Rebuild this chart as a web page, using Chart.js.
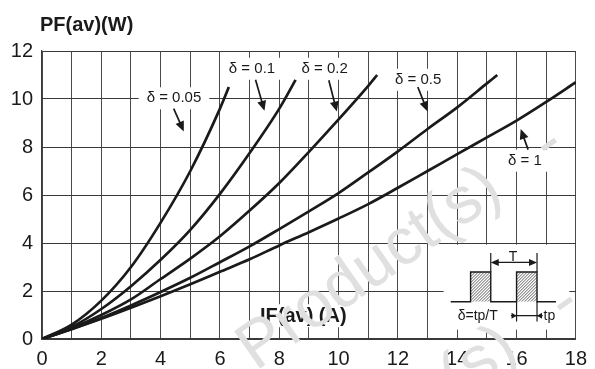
<!DOCTYPE html>
<html>
<head>
<meta charset="utf-8">
<script src="https://cdn.jsdelivr.net/npm/chart.js@4.4.1/dist/chart.umd.min.js"></script>
<style>
  html, body { margin: 0; padding: 0; background: #fff; }
  #wrap { width: 595px; height: 369px; }
</style>
</head>
<body>
<div id="wrap"><canvas id="chart"></canvas></div>
<script>
// values (IF(av) in A, PF(av) in W)
const ifD005 = [0, 1, 2, 3, 4, 5, 6, 6.3];
const pfD005 = [0, 0.6, 1.6, 3.0, 4.85, 7.0, 9.6, 10.5];
const ifD01 = [0, 1, 2, 3, 4, 5, 6, 7, 8, 8.55];
const pfD01 = [0, 0.5, 1.25, 2.2, 3.3, 4.55, 6.05, 7.75, 9.6, 10.8];
const ifD02 = [0, 1, 2, 3, 4, 5, 6, 7, 8, 9, 10, 11, 11.3];
const pfD02 = [0, 0.45, 1.0, 1.65, 2.5, 3.35, 4.28, 5.35, 6.5, 7.8, 9.15, 10.55, 11.0];
const ifD05 = [0, 1, 2, 3, 4, 5, 6, 7, 8, 9, 10, 11, 12, 13, 14, 15, 15.35];
const pfD05 = [0, 0.42, 0.88, 1.4, 1.96, 2.55, 3.2, 3.86, 4.58, 5.32, 6.08, 6.94, 7.82, 8.75, 9.65, 10.65, 11.0];
const ifD1 = [0, 1, 2, 3, 4, 5, 6, 7, 8, 9, 10, 11, 12, 13, 14, 15, 16, 17, 18];
const pfD1 = [0, 0.41, 0.84, 1.3, 1.78, 2.28, 2.8, 3.32, 3.9, 4.45, 5.02, 5.62, 6.3, 7.0, 7.7, 8.4, 9.1, 9.88, 10.7];

// curve labels and their arrows (data units)
const curveLabels = ['δ = 0.05', 'δ = 0.1', 'δ = 0.2', 'δ = 0.5', 'δ = 1'];
const labelX = [4.45, 7.08, 9.53, 12.68, 16.28];
const labelY = [10.03, 11.26, 11.26, 10.8, 7.43];
const arrowFromX = [4.44, 7.2, 9.67, 12.67, 16.39];
const arrowFromY = [9.6, 10.8, 10.78, 10.5, 7.89];
const arrowToX = [4.78, 7.5, 9.94, 13.0, 16.14];
const arrowToY = [8.65, 9.51, 9.48, 9.48, 8.75];

const FONT = '"Liberation Sans", Arial, sans-serif';
const INK = '#1a1a1a';

function pts(xs, ys) {
  return xs.map((x, i) => ({ x: x, y: ys[i] }));
}

function line(ds) {
  return {
    data: ds,
    showLine: true,
    borderColor: INK,
    borderWidth: 2.7,
    pointRadius: 0,
    cubicInterpolationMode: 'monotone',
    fill: false
  };
}

function arrowHead(ctx, x1, y1, x2, y2, len, half) {
  const a = Math.atan2(y2 - y1, x2 - x1);
  ctx.beginPath();
  ctx.moveTo(x2, y2);
  ctx.lineTo(x2 - len * Math.cos(a) + half * Math.sin(a), y2 - len * Math.sin(a) - half * Math.cos(a));
  ctx.lineTo(x2 - len * Math.cos(a) - half * Math.sin(a), y2 - len * Math.sin(a) + half * Math.cos(a));
  ctx.closePath();
  ctx.fill();
}

function whiteBox(ctx, cx, cy, w, h) {
  ctx.fillStyle = '#fff';
  ctx.fillRect(cx - w / 2, cy - h / 2, w, h);
}

const decorations = {
  id: 'decorations',
  beforeDatasetsDraw(chart) {
    const ctx = chart.ctx;
    const xs = chart.scales.x, ys = chart.scales.y;
    ctx.save();
    ctx.font = '15px ' + FONT;
    curveLabels.forEach((t, i) => {
      const w = ctx.measureText(t).width + 16;
      whiteBox(ctx, xs.getPixelForValue(labelX[i]), ys.getPixelForValue(labelY[i]), w, 22);
    });
    // axis name box
    ctx.font = 'bold 20px ' + FONT;
    const w = ctx.measureText('IF(av) (A)').width + 14;
    whiteBox(ctx, xs.getPixelForValue(8.81), ys.getPixelForValue(0.97), w, 23);
    // inset box
    const l = xs.getPixelForValue(13.54), r = xs.getPixelForValue(17.78);
    const t = ys.getPixelForValue(3.93), b = ys.getPixelForValue(0.39);
    ctx.fillStyle = '#fff';
    ctx.fillRect(l, t, r - l, b - t);
    ctx.restore();
  },
  afterDatasetsDraw(chart) {
    const ctx = chart.ctx;
    const xs = chart.scales.x, ys = chart.scales.y;
    const X = v => xs.getPixelForValue(v), Y = v => ys.getPixelForValue(v);
    ctx.save();
    ctx.fillStyle = INK;
    ctx.strokeStyle = INK;
    ctx.textAlign = 'center';
    ctx.textBaseline = 'middle';
    ctx.font = '15px ' + FONT;
    curveLabels.forEach((t, i) => {
      ctx.fillText(t, X(labelX[i]), Y(labelY[i]));
      const x1 = X(arrowFromX[i]), y1 = Y(arrowFromY[i]);
      const x2 = X(arrowToX[i]), y2 = Y(arrowToY[i]);
      ctx.lineWidth = 1.7;
      ctx.beginPath();
      ctx.moveTo(x1, y1);
      ctx.lineTo(x2 - (x2 - x1) * 0.25, y2 - (y2 - y1) * 0.25);
      ctx.stroke();
      arrowHead(ctx, x1, y1, x2, y2, 10, 4.5);
    });

    ctx.font = 'bold 20px ' + FONT;
    ctx.fillText('IF(av) (A)', X(8.81), Y(0.97) + 1);

    // duty cycle inset
    const base = Y(1.55), top = Y(2.79);
    ctx.lineWidth = 1.4;
    ctx.beginPath();
    ctx.moveTo(X(13.78), base);
    ctx.lineTo(X(14.45), base); ctx.lineTo(X(14.45), top);
    ctx.lineTo(X(15.13), top); ctx.lineTo(X(15.13), base);
    ctx.lineTo(X(16.0), base); ctx.lineTo(X(16.0), top);
    ctx.lineTo(X(16.69), top); ctx.lineTo(X(16.69), base);
    ctx.lineTo(X(17.33), base);
    ctx.stroke();
    // hatching
    [[14.45, 15.13], [16.0, 16.69]].forEach(p => {
      const l = X(p[0]), r = X(p[1]);
      ctx.save();
      ctx.beginPath();
      ctx.rect(l, top, r - l, base - top);
      ctx.clip();
      ctx.lineWidth = 0.7;
      for (let k = -40; k < 40; k += 3) {
        ctx.beginPath();
        ctx.moveTo(l + k, base);
        ctx.lineTo(l + k + (base - top), top);
        ctx.stroke();
      }
      ctx.restore();
    });
    // T marker
    const tY = Y(3.58), aY = Y(3.19);
    ctx.lineWidth = 1.2;
    ctx.beginPath();
    ctx.moveTo(X(15.13), top); ctx.lineTo(X(15.13), tY);
    ctx.moveTo(X(16.69), top); ctx.lineTo(X(16.69), tY);
    ctx.moveTo(X(15.13) + 5, aY); ctx.lineTo(X(16.69) - 5, aY);
    ctx.stroke();
    arrowHead(ctx, X(15.9), aY, X(15.13), aY, 8, 3.5);
    arrowHead(ctx, X(15.9), aY, X(16.69), aY, 8, 3.5);
    ctx.font = '14px ' + FONT;
    ctx.textBaseline = 'alphabetic';
    ctx.fillText('T', X(15.88), aY - 1);
    // tp marker
    const pY = Y(0.97), pB = Y(0.73);
    ctx.beginPath();
    ctx.moveTo(X(16.0), base); ctx.lineTo(X(16.0), pB);
    ctx.moveTo(X(16.69), base); ctx.lineTo(X(16.69), pB);
    ctx.moveTo(X(15.81), pY); ctx.lineTo(X(16.88), pY);
    ctx.stroke();
    arrowHead(ctx, X(15.81), pY, X(16.0), pY, 5, 3);
    arrowHead(ctx, X(16.88), pY, X(16.69), pY, 5, 3);
    ctx.textBaseline = 'middle';
    ctx.textAlign = 'left';
    ctx.fillText('tp', X(16.91), pY);
    ctx.textAlign = 'center';
    ctx.fillText('δ=tp/T', X(14.69), pY);
    ctx.restore();
  },
  afterDraw(chart) {
    const ctx = chart.ctx;
    ctx.save();
    ctx.fillStyle = INK;
    ctx.font = 'bold 20px ' + FONT;
    ctx.textAlign = 'left';
    ctx.textBaseline = 'alphabetic';
    ctx.fillText('PF(av)(W)', 40, 31);

    // faint watermark over the chart
    ctx.fillStyle = '#e0e0e0';
    ctx.font = '66px ' + FONT;
    const ang = -35 * Math.PI / 180;
    // [anchor x, anchor y, text, prefix before the anchor]
    const marks = [
      [442, 241, 'Product(s)   -   Obsolete', 'Product'],
      [458, 400, 'Obsolete Product(s)   -   Obsolete', 'Obsolete Product']
    ];
    marks.forEach(m => {
      const off = ctx.measureText(m[3]).width;
      ctx.save();
      ctx.translate(m[0], m[1]);
      ctx.rotate(ang);
      ctx.fillText(m[2], -off, 0);
      ctx.restore();
    });
    ctx.restore();
  }
};

const gridOpts = {
  color: '#3a3a3a',
  lineWidth: 1,
  drawTicks: false
};

new Chart(document.getElementById('chart'), {
  type: 'scatter',
  data: {
    datasets: [
      line(pts(ifD005, pfD005)),
      line(pts(ifD01, pfD01)),
      line(pts(ifD02, pfD02)),
      line(pts(ifD05, pfD05)),
      line(pts(ifD1, pfD1))
    ]
  },
  options: {
    responsive: true,
    maintainAspectRatio: false,
    animation: false,
    layout: { padding: { top: 51, right: 12, left: 0, bottom: 0 } },
    plugins: {
      legend: { display: false },
      tooltip: { enabled: false },
      title: { display: false }
    },
    scales: {
      x: {
        type: 'linear',
        min: 0,
        max: 18,
        grid: Object.assign({}, gridOpts, { color: '#4a4a4a' }),
        border: { color: '#3a3a3a', width: 1.2 },
        ticks: {
          stepSize: 1,
          padding: 8,
          color: INK,
          font: { family: FONT, size: 20 },
          callback: v => (v % 2 === 0 ? v : '')
        },
        afterFit: s => { s.height = 30; }
      },
      y: {
        type: 'linear',
        min: 0,
        max: 12,
        grid: gridOpts,
        border: { color: '#3a3a3a', width: 1.2 },
        ticks: {
          stepSize: 1,
          padding: 9,
          color: INK,
          font: { family: FONT, size: 20 },
          callback: v => (v % 2 === 0 ? v : '')
        },
        afterFit: s => { s.width = 42; }
      }
    }
  },
  plugins: [decorations]
});
</script>
</body>
</html>
